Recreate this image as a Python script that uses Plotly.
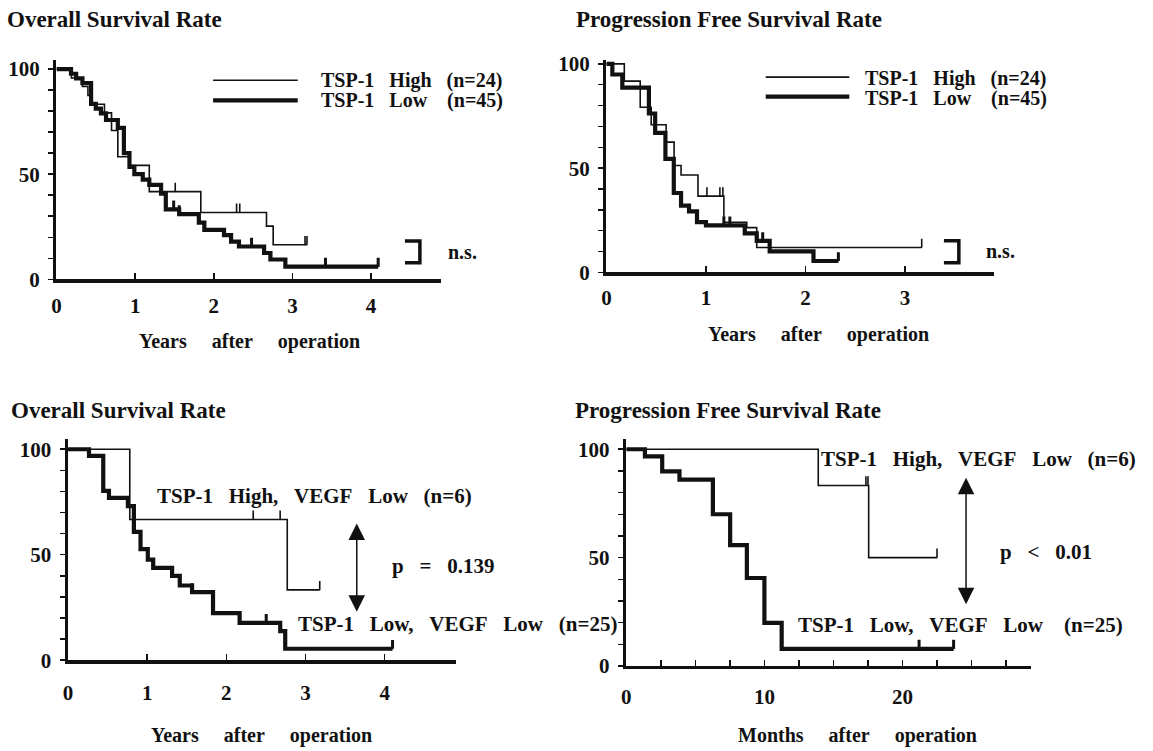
import plotly.graph_objects as go

W, H = 1153, 751
NB = "\u00a0"
FONT = "Liberation Serif, Times New Roman, serif"
INK = "#111111"

# ---------------- data (survival %, time) ----------------
# Panel A: Overall survival (years)
osA_high_t = [0.19, 0.33, 0.40, 0.44, 0.61, 0.70, 0.78, 0.93, 1.18, 1.835, 2.67, 2.755]
osA_high_s = [95.8, 91.7, 87.5, 83.3, 79.2, 70.8, 58.3, 54.2, 41.7, 31.8, 25.3, 16.4]
osA_high_end = 3.185
osA_high_cens = [1.51, 2.29, 2.33, 3.16, 3.185]

osA_low_t = [0.185, 0.25, 0.33, 0.44, 0.50, 0.565, 0.63, 0.78, 0.857, 0.928, 0.99, 1.097,
             1.18, 1.33, 1.39, 1.56, 1.81, 1.88, 2.13, 2.22, 2.32, 2.64, 2.72, 2.91]
osA_low_s = [97.8, 95.6, 93.3, 83.5, 81.2, 78.9, 75.8, 72.0, 60.0, 53.5, 50.0, 47.4,
             44.9, 40.7, 33.3, 31.0, 27.0, 23.5, 21.0, 17.9, 15.6, 12.5, 9.4, 6.0]
osA_low_end = 4.09
osA_low_cens = [1.49, 1.56, 2.48, 3.42, 4.09]

# Panel B: Progression free survival (years)
pfsB_high_t = [0.18, 0.34, 0.45, 0.60, 0.68, 0.75, 0.92, 1.18, 1.41, 1.51]
pfsB_high_s = [91.7, 79.2, 70.8, 62.5, 51.3, 46.7, 36.6, 24.1, 21.5, 12.0]
pfsB_high_end = 3.167
pfsB_high_cens = [1.01, 1.14, 1.17, 3.167]

pfsB_low_t = [0.06, 0.16, 0.427, 0.49, 0.593, 0.677, 0.75, 0.83, 0.91, 1.0, 1.39, 1.51, 1.64, 2.08]
pfsB_low_s = [94.9, 88.6, 76.2, 66.9, 54.4, 38.1, 32.0, 29.3, 24.1, 22.6, 18.7, 15.1, 10.1, 5.5]
pfsB_low_end = 2.33
pfsB_low_cens = [0.49, 1.18, 1.24, 1.57, 2.33]

# Panel C: Overall survival, VEGF low (years)
osC_high_t = [0.78, 2.77]
osC_high_s = [66.7, 33.3]
osC_high_end = 3.18
osC_high_cens = [2.34, 2.68, 3.18]

osC_low_t = [0.265, 0.445, 0.517, 0.756, 0.832, 0.916, 1.008, 1.076, 1.315, 1.412,
             1.567, 1.832, 2.168, 2.681, 2.744]
osC_low_s = [96.9, 80.3, 76.9, 73.0, 60.8, 52.6, 47.7, 43.8, 40.0, 35.4,
             32.3, 22.3, 17.7, 13.8, 5.4]
osC_low_end = 4.10
osC_low_cens = [1.567, 2.504, 4.10]

# Panel D: Progression free survival, VEGF low (months)
pfsD_high_t = [13.9, 17.55]
pfsD_high_s = [83.3, 50.0]
pfsD_high_end = 22.5
pfsD_high_cens = [17.35, 17.5, 22.5]

pfsD_low_t = [1.35, 2.6, 3.85, 6.27, 7.52, 8.73, 10.0, 11.25]
pfsD_low_s = [96.7, 89.8, 86.0, 70.0, 55.8, 40.6, 19.9, 7.9]
pfsD_low_end = 23.7
pfsD_low_cens = [7.52, 21.2, 23.7]

y_ticks = [0, 10, 20, 30, 40, 50, 60, 70, 80, 90, 100]
y_ticktext = ["0", "", "", "", "", "50", "", "", "", "", "100"]
years_ticks_A = [0, 1, 2, 3, 4]
years_ticks_B = [0, 1, 2, 3]
months_ticks = [0, 2.5, 5, 7.5, 10, 12.5, 15, 17.5, 20, 22.5, 25, 27.5]
months_text = ["0", "", "", "", "10", "", "", "", "20", "", "", ""]


def px(x):
    return x / W


def py(y):
    return 1 - y / H


def surv_at(t, times, surv):
    s = 100.0
    for ti, si in zip(times, surv):
        if ti <= t + 1e-9:
            s = si
    return s


fig = go.Figure()


def add_curve(xa, ya, times, surv, end, cens, thick):
    lw = 4.2 if thick else 1.6
    xs = [0] + times + [end]
    ys = [100] + surv + [surv[-1]]
    fig.add_trace(go.Scatter(x=xs, y=ys, mode="lines", line=dict(color=INK, width=lw, shape="hv"),
                             xaxis=xa, yaxis=ya, showlegend=False, hoverinfo="skip"))
    cy = [surv_at(c, times, surv) for c in cens]
    fig.add_trace(go.Scatter(x=cens, y=cy, mode="markers", marker=dict(size=1, color=INK),
                             error_y=dict(type="data", symmetric=False, array=[4.2] * len(cens),
                                          arrayminus=[0] * len(cens), width=0,
                                          thickness=3 if thick else 1.6, color=INK),
                             xaxis=xa, yaxis=ya, showlegend=False, hoverinfo="skip"))


add_curve("x", "y", osA_high_t, osA_high_s, osA_high_end, osA_high_cens, False)
add_curve("x", "y", osA_low_t, osA_low_s, osA_low_end, osA_low_cens, True)
add_curve("x2", "y2", pfsB_high_t, pfsB_high_s, pfsB_high_end, pfsB_high_cens, False)
add_curve("x2", "y2", pfsB_low_t, pfsB_low_s, pfsB_low_end, pfsB_low_cens, True)
add_curve("x3", "y3", osC_high_t, osC_high_s, osC_high_end, osC_high_cens, False)
add_curve("x3", "y3", osC_low_t, osC_low_s, osC_low_end, osC_low_cens, True)
add_curve("x4", "y4", pfsD_high_t, pfsD_high_s, pfsD_high_end, pfsD_high_cens, False)
add_curve("x4", "y4", pfsD_low_t, pfsD_low_s, pfsD_low_end, pfsD_low_cens, True)

tickfont = dict(family=FONT, size=21, color=INK, weight="bold")


def xaxis(dom, rng, tv, tt, anchor, standoff):
    return dict(domain=[px(dom[0]), px(dom[1])], range=rng, anchor=anchor, showline=True,
                linewidth=3.5, linecolor=INK, showgrid=False, zeroline=False,
                ticks="inside", ticklen=6, tickwidth=1.5, tickcolor=INK,
                tickvals=tv, ticktext=tt, tickfont=tickfont, ticklabelstandoff=standoff,
                fixedrange=True)


def yaxis(dom, rng, anchor):
    return dict(domain=[py(dom[1]), py(dom[0])], range=rng, anchor=anchor, showline=True,
                linewidth=3.5, linecolor=INK, showgrid=False, zeroline=False,
                ticks="outside", ticklen=5, tickwidth=1.5, tickcolor=INK,
                tickvals=y_ticks, ticktext=y_ticktext, tickfont=tickfont,
                ticklabelstandoff=4, fixedrange=True)


fig.update_layout(
    xaxis=xaxis((51.7, 438), [0, 4.89], years_ticks_A, [str(v) for v in years_ticks_A], "y", 5),
    yaxis=yaxis((53.3, 278.7), [0, 104.4], "x"),
    xaxis2=xaxis((604, 993.3), [0, 3.893], years_ticks_B, [str(v) for v in years_ticks_B], "y2", 4),
    yaxis2=yaxis((53.3, 271.7), [0, 101.9], "x2"),
    xaxis3=xaxis((63.3, 453.3), [0, 4.906], years_ticks_A, [str(v) for v in years_ticks_A], "y3", 11),
    yaxis3=yaxis((442.7, 670), [0, 104.9], "x3"),
    xaxis4=xaxis((624, 1030), [0, 29.27], months_ticks, months_text, "y4", 9),
    yaxis4=yaxis((443.3, 676), [0, 104.5], "x4"),
)

anns = []


def text(t, x, y, size=20, anchor="left"):
    anns.append(dict(text=t, x=px(x), y=py(y), xref="paper", yref="paper", showarrow=False,
                     xanchor=anchor, yanchor="middle",
                     font=dict(family=FONT, size=size, color=INK, weight="bold")))


sp3 = NB * 3
sp5 = NB * 5
text("Overall Survival Rate", 0, 12, 23)
text("Progression Free Survival Rate", 571, 12, 23)
text("Overall Survival Rate", 4, 414, 23)
text("Progression Free Survival Rate", 570, 414, 23)

text("TSP-1" + sp3 + "High" + sp3 + "(n=24)", 315, 74)
text("TSP-1" + sp3 + "Low" + sp3 + NB + "(n=45)", 315, 95)
text("TSP-1" + sp3 + "High" + sp3 + "(n=24)", 862, 72)
text("TSP-1" + sp3 + "Low" + sp3 + NB + "(n=45)", 862, 93)

text("n.s.", 443, 251)
text("n.s.", 983, 250)

text("Years" + sp5 + "after" + sp5 + "operation", 246, 343, anchor="center")
text("Years" + sp5 + "after" + sp5 + "operation", 817, 335, anchor="center")
text("Years" + sp5 + "after" + sp5 + "operation", 258, 747, anchor="center")
text("Months" + sp5 + "after" + sp5 + "operation", 856, 747, anchor="center")

text("TSP-1" + sp3 + "High," + sp3 + "VEGF" + sp3 + "Low" + sp3 + "(n=6)", 151, 501, 21)
text("p" + sp3 + "=" + sp3 + "0.139", 387, 573, 21)
text("TSP-1" + sp3 + "Low," + sp3 + "VEGF" + sp3 + "Low" + sp3 + "(n=25)", 292, 633, 21)
text("TSP-1" + sp3 + "High," + sp3 + "VEGF" + sp3 + "Low" + sp3 + "(n=6)", 818, 463, 21)
text("p" + sp3 + "<" + sp3 + "0.01", 997, 559, 21)
text("TSP-1" + sp3 + "Low," + sp3 + "VEGF" + sp3 + "Low" + sp3 + NB + "(n=25)", 794, 634, 21)

# double arrows
for xr, yr, xv, ytop, ybot in [("x3", "y3", 3.648, 65.5, 23.0), ("x4", "y4", 24.6, 87.5, 28.5)]:
    anns.append(dict(x=xv, y=ybot, ax=xv, ay=ytop, xref=xr, yref=yr, axref=xr, ayref=yr,
                     text="", showarrow=True, arrowside="end+start", arrowhead=2, startarrowhead=2,
                     arrowsize=2.2, startarrowsize=2.2, arrowwidth=1.5, arrowcolor=INK))

fig.update_layout(annotations=anns)

shapes = []
# legend keys
for (x0, x1, y, w) in [(209, 294, 74.3, 1.6), (209, 294, 95, 4.2), (764, 848, 71, 1.6), (764, 848, 91, 4.2)]:
    shapes.append(dict(type="line", xref="paper", yref="paper", x0=px(x0), x1=px(x1), y0=py(y), y1=py(y),
                       line=dict(color=INK, width=w)))
# n.s. brackets
for (x0, x1, y0, y1) in [(401.7, 416.7, 239.3, 261.7), (943, 958, 239, 261.7)]:
    shapes.append(dict(type="path", xref="paper", yref="paper",
                       path=f"M {px(x0)},{py(y0)} L {px(x1)},{py(y0)} L {px(x1)},{py(y1)} L {px(x0)},{py(y1)}",
                       line=dict(color=INK, width=3.5)))
fig.update_layout(shapes=shapes)

fig.update_layout(width=W, height=H, autosize=False, margin=dict(l=0, r=0, t=0, b=0),
                  paper_bgcolor="white", plot_bgcolor="white", showlegend=False)

fig.write_html("out.html", config={"displayModeBar": False, "staticPlot": True})

# remove the default page margin so the figure sits at the window origin
with open("out.html", "r", encoding="utf-8") as f:
    html = f.read()
html = html.replace("<head>", "<head><style>html,body{margin:0;padding:0;overflow:hidden;}</style>", 1)
with open("out.html", "w", encoding="utf-8") as f:
    f.write(html)
